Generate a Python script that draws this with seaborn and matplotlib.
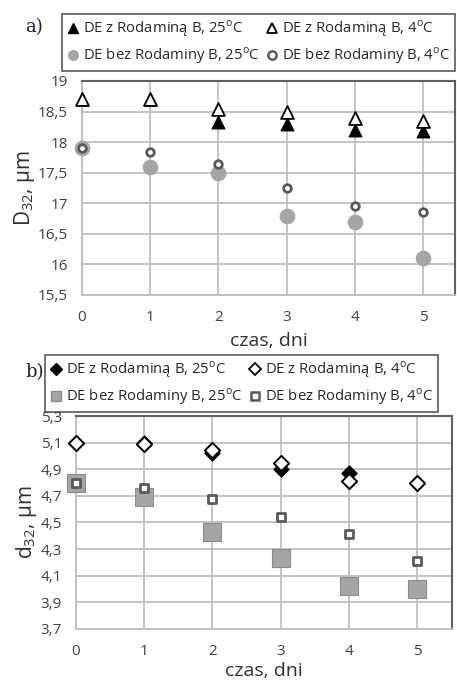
import numpy as np
import pandas as pd
import matplotlib
matplotlib.use("Agg")
import matplotlib.pyplot as plt
import seaborn as sns
from matplotlib.lines import Line2D

# ---------------- data ----------------
days = [0, 1, 2, 3, 4, 5]

# panel a: D32, um
a_rod_25 = [18.70, 18.70, 18.33, 18.30, 18.20, 18.18]
a_rod_4 = [18.70, 18.70, 18.54, 18.50, 18.40, 18.35]
a_bez_25 = [17.90, 17.60, 17.50, 16.79, 16.69, 16.10]
a_bez_4 = [17.90, 17.84, 17.65, 17.25, 16.95, 16.85]

# panel b: d32, um
b_rod_25 = [5.10, 5.10, 5.02, 4.90, 4.87, 4.80]
b_rod_4 = [5.10, 5.09, 5.045, 4.95, 4.81, 4.80]
b_bez_25 = [4.80, 4.69, 4.43, 4.23, 4.02, 4.00]
b_bez_4 = [4.80, 4.76, 4.675, 4.54, 4.415, 4.21]

a_yticks = [15.5, 16, 16.5, 17, 17.5, 18, 18.5, 19]
a_yticklabels = ["15,5", "16", "16,5", "17", "17,5", "18", "18,5", "19"]
b_yticks = [3.7, 3.9, 4.1, 4.3, 4.5, 4.7, 4.9, 5.1, 5.3]
b_yticklabels = ["3,7", "3,9", "4,1", "4,3", "4,5", "4,7", "4,9", "5,1", "5,3"]

deg = "$^{\\mathregular{o}}$C"
lab_rod_25 = "DE z Rodaminą B, 25" + deg
lab_rod_4 = "DE z Rodaminą B, 4" + deg
lab_bez_25 = "DE bez Rodaminy B, 25" + deg
lab_bez_4 = "DE bez Rodaminy B, 4" + deg

# ---------------- style ----------------
sns.set_style("white")
plt.rcParams["font.family"] = ["Open Sans", "DejaVu Sans"]
plt.rcParams["mathtext.fontset"] = "custom"
plt.rcParams["mathtext.rm"] = "Open Sans"

TXT = "#404040"
GRID = "#bfbfbf"
GREY = "#a5a5a5"
DARK = "#595959"

fig = plt.figure(figsize=(4.57, 6.82), dpi=100)
ax_a = fig.add_axes([82/457, 1-295/682, (455-82)/457, (295-81)/682])
ax_b = fig.add_axes([76/457, 1-629/682, (452-76)/457, (629-416)/682])


def style_axes(ax, xr, yticks, ylabels, ylim, ylabel, xpad):
    ax.set_xlim(0, xr)
    ax.set_ylim(*ylim)
    ax.set_xticks(days)
    ax.set_xticklabels([str(d) for d in days])
    ax.set_yticks(yticks)
    ax.set_yticklabels(ylabels)
    ax.grid(True, color=GRID, linewidth=1.3)
    ax.set_axisbelow(True)
    for s in ["left", "bottom"]:
        ax.spines[s].set_color(GRID)
        ax.spines[s].set_linewidth(1.3)
    for s in ["top", "right"]:
        ax.spines[s].set_color("#606060")
        ax.spines[s].set_linewidth(1.5)
    ax.tick_params(axis="both", length=0, labelsize=11, colors=TXT)
    ax.tick_params(axis="y", pad=10)
    ax.tick_params(axis="x", pad=11)
    ax.set_xlabel("czas, dni", fontsize=14, color="#303030", labelpad=xpad)
    ax.set_ylabel(ylabel, fontsize=15, color="#303030", labelpad=1)


def scat(ax, y, marker, fc, ec, s, lw):
    df = pd.DataFrame({"x": days, "y": y})
    sns.scatterplot(data=df, x="x", y="y", ax=ax, marker=marker, s=s,
                    color=fc, edgecolor=ec, linewidth=lw, zorder=3, clip_on=False)


# panel a
scat(ax_a, a_bez_25, "o", GREY, GREY, 110, 0.8)
scat(ax_a, a_bez_4, "o", "white", DARK, 30, 2.0)
scat(ax_a, a_rod_25, "^", "black", "black", 85, 0.8)
scat(ax_a, a_rod_4, "^", "white", "black", 85, 1.3)
style_axes(ax_a, 5.47, a_yticks, a_yticklabels, (15.5, 19), "D$_{\\mathregular{32}}$, μm", 5)

# panel b
scat(ax_b, b_bez_25, "s", GREY, "#8c8c8c", 150, 0.8)
scat(ax_b, b_bez_4, "s", "white", DARK, 35, 2.0)
scat(ax_b, b_rod_25, "D", "black", "black", 60, 0.8)
scat(ax_b, b_rod_4, "D", "white", "black", 60, 1.4)
style_axes(ax_b, 5.51, b_yticks, b_yticklabels, (3.7, 5.3), "d$_{\\mathregular{32}}$, μm", 2)


def handles(m1, m2, m3, m4):
    return [Line2D([], [], ls="", **m) for m in (m1, m2, m3, m4)]


ha = handles(
    dict(marker="^", markerfacecolor="black", markeredgecolor="black", markersize=7.5),
    dict(marker="o", markerfacecolor=GREY, markeredgecolor=GREY, markersize=7),
    dict(marker="^", markerfacecolor="white", markeredgecolor="black", markersize=7.5, markeredgewidth=1.3),
    dict(marker="o", markerfacecolor="white", markeredgecolor=DARK, markersize=6, markeredgewidth=1.8),
)
hb = handles(
    dict(marker="D", markerfacecolor="black", markeredgecolor="black", markersize=6),
    dict(marker="s", markerfacecolor=GREY, markeredgecolor="#8c8c8c", markersize=7),
    dict(marker="D", markerfacecolor="white", markeredgecolor="black", markersize=6, markeredgewidth=1.3),
    dict(marker="s", markerfacecolor="white", markeredgecolor=DARK, markersize=6, markeredgewidth=1.8),
)
labels = [lab_rod_25, lab_bez_25, lab_rod_4, lab_bez_4]

common = dict(ncol=2, frameon=True, fancybox=False, fontsize=10.7, handlelength=0.8,
              handletextpad=0.3, columnspacing=0.4, borderpad=0.32, labelspacing=0.42,
              labelcolor="#262626", borderaxespad=0)
la = fig.legend(ha, labels, loc="upper left", bbox_to_anchor=(62/457, 1-14/682), **common)
la.get_frame().set_edgecolor("#303030")
la.get_frame().set_linewidth(1.2)
lb = fig.legend(hb, labels, loc="upper left", bbox_to_anchor=(45/457, 1-355/682), **common)
lb.get_frame().set_edgecolor("#303030")
lb.get_frame().set_linewidth(1.2)

fig.text(25/457, 1-27/682, "a)", fontsize=13, family="DejaVu Serif", color="#1a1a40", va="center")
fig.text(25/457, 1-372/682, "b)", fontsize=13, family="DejaVu Serif", color="#1a1a40", va="center")

fig.savefig("out.png", dpi=100)
